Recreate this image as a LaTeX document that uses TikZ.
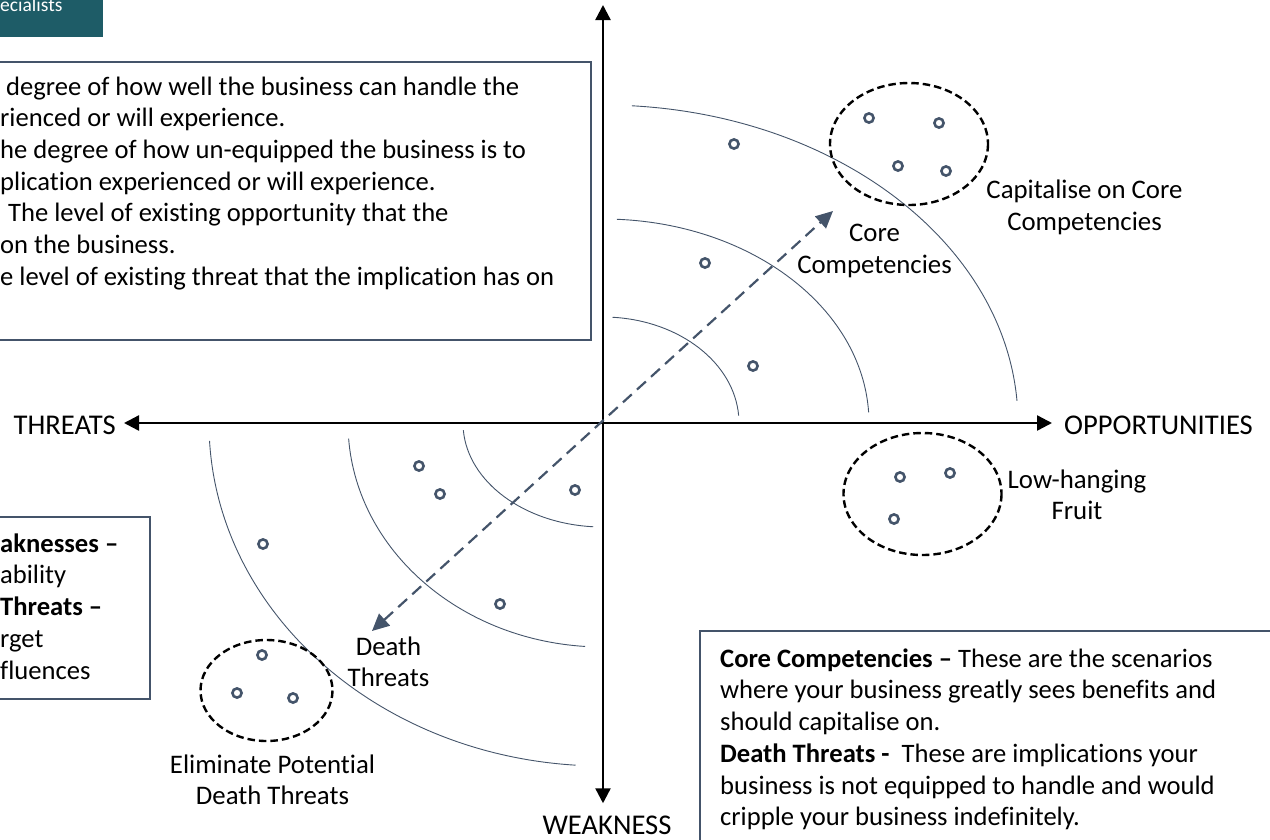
\documentclass[tikz,border=0pt]{standalone}
\usepackage{fontspec}
\setmainfont{Carlito}[Ligatures={NoCommon,NoRequired,NoContextual}]
\usetikzlibrary{arrows.meta}

\definecolor{slate}{HTML}{44546A}
\definecolor{bandteal}{HTML}{1E5C67}

\tikzset{
  axis/.style={line width=2.4pt, {Triangle[length=15pt,width=15pt]}-{Triangle[length=15pt,width=15pt]}},
  ring/.style={slate, line width=0.9pt},
  dot/.style={slate, line width=2.6pt},
  cluster/.style={black, line width=2.4pt, dash pattern=on 7.5pt off 4pt},
  trend/.style={slate, line width=2.2pt, dash pattern=on 12pt off 7pt, {Triangle[length=17pt,width=16pt]}-{Triangle[length=17pt,width=16pt]}},
  infobox/.style={draw=slate, line width=1.6pt},
  bodytext/.style={font=\fontsize{26.6}{31.7}\selectfont, align=left, inner sep=0pt},
  tag/.style={font=\fontsize{26.8}{31.5}\selectfont, align=center, inner sep=0pt},
  axlabel/.style={font=\fontsize{28.6}{32}\selectfont, inner sep=0pt},
}

\begin{document}
\begin{tikzpicture}[x=1pt, y=-1pt]
\useasboundingbox (0,0) rectangle (1270,839);
\clip (0,0) rectangle (1270,839);

% Bandeau en haut a gauche
\fill[bandteal] (-10,-10) rectangle (103,37);
\node[white, font=\fontsize{19.5}{22}\selectfont, anchor=base west, inner sep=0pt] (band) at (0,11) {ecialists};

% Cadre des definitions (coupe a gauche)
\draw[infobox] (-20,62) rectangle (591,340);
\node[bodytext, anchor=north west] (defs) at (0,76.4) {\hspace*{6pt}degree of how well the business can handle the\\
rienced or will experience.\\
he degree of how un-equipped the business is to\\
plication experienced or will experience.\\
\hspace*{8pt}The level of existing opportunity that the\\
on the business.\\
e level of existing threat that the implication has on};

% Cadre de gauche
\draw[infobox] (-20,517) rectangle (150,699);
\node[bodytext, anchor=north west] (legend) at (0,533.4) {\textbf{aknesses –}\\ ability\\ \textbf{Threats –}\\ rget\\ fluences};

% Cadre en bas a droite
\draw[infobox] (700,631) rectangle (1290,860);
\node[bodytext, anchor=north west] (notes) at (720,648.4) {\textbf{Core Competencies –} These are the scenarios\\
where your business greatly sees benefits and\\
should capitalise on.\\
\textbf{Death Threats -}\ \ These are implications your\\
business is not equipped to handle and would\\
cripple your business indefinitely.};

% Axes
\coordinate (O) at (603,423);
\coordinate (top) at (603,5);
\node[axlabel, anchor=base east] (threats) at (116,434) {THREATS};
\node[axlabel, anchor=base west] (opp) at (1064,434) {OPPORTUNITIES};
\node[axlabel, anchor=base] (weak) at (607,834) {WEAKNESS};
\draw[axis, shorten <=8pt, shorten >=12pt] (threats.east |- O) -- (opp.west |- O);
\draw[axis, shorten <=12pt] (weak.north -| O) -- (top);

% Arcs (quarts d'ellipse)
\foreach \rx/\ry/\a/\b in {136/106/-86/-4, 266/204/-87/-3, 415/318/-86/-4,
                          140/104/176/94, 255/224/176/94, 394/343/177/94} {
  \draw[ring] (O) ++({\rx*cos(\a)},{\ry*sin(\a)}) arc[start angle=\a, end angle=\b, x radius=\rx, y radius=\ry];
}

% Points
\foreach \px/\py in {869/118, 939/123, 898/166, 946/171, 734/144, 705/263, 753/366,
                     900/477, 950/473, 894/519,
                     419/466, 440/494, 575/490, 263/544, 500/604, 262/655, 237/693, 293/698} {
  \draw[dot] (\px,\py) circle (4.6pt);
}

% Regroupements
\draw[cluster] (909,144) ellipse [x radius=79, y radius=61];
\draw[cluster] (922.5,494) ellipse [x radius=79, y radius=61];
\draw[cluster] (266.5,690.5) ellipse [x radius=66, y radius=50.5];

% Tendance
\coordinate (ccTip) at (833,211);
\coordinate (dtTip) at (372,631);
\draw[trend] (dtTip) -- (ccTip);

% Etiquettes
\node[tag] (core) at (874.5,251) {Core\\Competencies};
\node[tag] (capit) at (1084.5,207.5) {Capitalise on Core\\Competencies};
\node[tag] (fruit) at (1077,495) {Low-hanging\\Fruit};
\node[tag] (death) at (388.5,662) {Death\\Threats};
\node[tag] (elim) at (272.5,780) {Eliminate Potential\\Death Threats};

\end{tikzpicture}
\end{document}
